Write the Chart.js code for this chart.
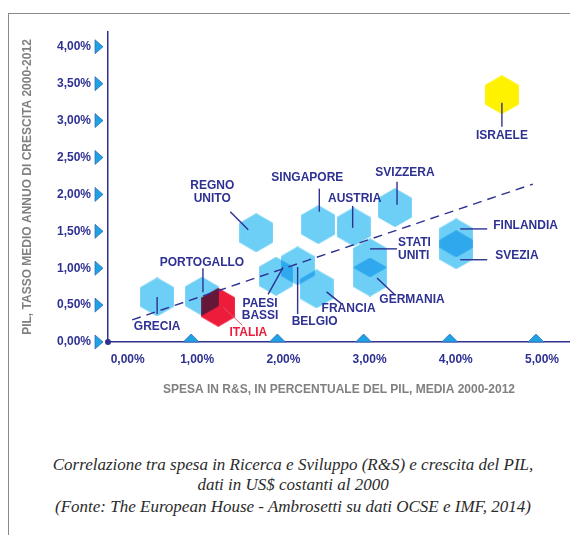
<!DOCTYPE html>
<html>
<head>
<meta charset="utf-8">
<script src="https://cdn.jsdelivr.net/npm/chart.js@4.4.1/dist/chart.umd.min.js"></script>
<style>
  html, body { margin: 0; padding: 0; background: #fff; overflow: hidden; }
  body { width: 570px; height: 535px; position: relative; }
  .frame { position: absolute; left: 8px; top: 13px; width: 700px; height: 700px;
           border-top: 1px solid #8a8a8a; border-left: 1px solid #8a8a8a; }
  #chartBox { position: absolute; left: 0; top: 0; width: 570px; height: 410px; }
  .caption { position: absolute; left: 8px; top: 455px; width: 570px; text-align: center;
             font-family: "Liberation Serif", "DejaVu Serif", serif; font-style: italic;
             font-size: 17px; color: #2b2b2b; }
  .caption p { margin: 0; line-height: 20px; }
  .caption p + p { margin-top: 2px; }
</style>
</head>
<body>
<div class="frame"></div>
<div id="chartBox"><canvas id="chart" width="570" height="410"></canvas></div>
<div class="caption">
  <p>Correlazione tra spesa in Ricerca e Sviluppo (R&amp;S) e crescita del PIL,<br>dati in US$ costanti al 2000</p>
  <p>(Fonte: The European House - Ambrosetti su dati OCSE e IMF, 2014)</p>
</div>
<script>
// data
const countries = ['GRECIA', 'PORTOGALLO', 'ITALIA', 'REGNO UNITO', 'PAESI BASSI', 'BELGIO', 'FRANCIA',
  'SINGAPORE', 'AUSTRIA', 'SVIZZERA', 'STATI UNITI', 'GERMANIA', 'FINLANDIA', 'SVEZIA', 'ISRAELE'];
const rdSpend = [0.57, 1.09, 1.28, 1.72, 1.95, 2.20, 2.42, 2.44, 2.85, 3.33, 3.04, 3.04, 4.04, 4.04, 4.57];
const gdpGrowth = [0.61, 0.62, 0.47, 1.48, 0.89, 1.03, 0.72, 1.59, 1.56, 1.82, 1.14, 0.88, 1.41, 1.25, 3.35];
const trendX = [0.28, 4.93];
const trendY = [0.30, 2.14];
const xTickValues = [0, 1, 2, 3, 4, 5];
const yTickValues = [0, 0.5, 1, 1.5, 2, 2.5, 3, 3.5, 4];

const NAVY = '#2e3192';
const GRAY = '#808080';
const BLUE = '#6dcff6';
const RED = '#ed1c3a';
const YELLOW = '#fff200';

// label placement, pixels relative to the point: [dx, dy, align, leader x1, y1, x2, y2]
const labelLayout = {
  'GRECIA':      [0, 30, 'center', 0, 0, 0, 17],
  'PORTOGALLO':  [0, -34, 'center', 1, -28, 1, -4],
  'ITALIA':      [30, 25, 'center', 5, 0, 24, 18],
  'REGNO UNITO': [-44, -47, 'center', -26, -21, -8, -3],
  'PAESI BASSI': [-16, 27, 'center', -8, 18, 7, -9],
  'BELGIO':      [17, 56, 'center', 0, 1, 0, 48],
  'FRANCIA':     [32, 20, 'center', 10, 3, 25, 15],
  'SINGAPORE':   [-11, -47, 'center', 1, -36, 1, -13],
  'AUSTRIA':     [1, -28, 'center', -1, -21, -1, 1],
  'SVIZZERA':    [10, -35, 'center', 2, -26, 2, -3],
  'STATI UNITI': [28, -15, 'left', 0, -9, 27, -9],
  'GERMANIA':    [42, 23, 'center', 7, 1, 25, 18],
  'FINLANDIA':   [37, -12, 'left', 4, -9, 31, -9],
  'SVEZIA':      [39, 6, 'left', 4, 10, 31, 10],
  'ISRAELE':     [0, 41, 'center', 0, 8, 0, 32]
};
const twoLine = ['REGNO UNITO', 'PAESI BASSI', 'STATI UNITI'];

function hexImage(color) {
  const r = 19.5;
  const w = Math.ceil(r * Math.sqrt(3)), h = Math.ceil(2 * r);
  const c = document.createElement('canvas');
  c.width = w; c.height = h;
  const g = c.getContext('2d');
  g.fillStyle = color;
  g.beginPath();
  for (let i = 0; i < 6; i++) {
    const a = Math.PI / 3 * i - Math.PI / 2;
    g.lineTo(w / 2 + r * Math.cos(a), h / 2 + r * Math.sin(a));
  }
  g.closePath();
  g.fill();
  return c;
}

const pointsOf = (filter) => countries
  .map((name, i) => ({ x: rdSpend[i], y: gdpGrowth[i], name }))
  .filter(p => filter(p.name));

const fmt = v => v.toFixed(2).replace('.', ',') + '%';

const multiplyPlugin = {
  id: 'multiply',
  beforeDatasetDraw(chart, args) {
    if (chart.data.datasets[args.index].hex) {
      chart.ctx.save();
      chart.ctx.globalCompositeOperation = 'multiply';
    }
  },
  afterDatasetDraw(chart, args) {
    if (chart.data.datasets[args.index].hex) chart.ctx.restore();
  }
};

const decorPlugin = {
  id: 'decor',
  afterDraw(chart) {
    const { ctx, chartArea, scales: { x, y } } = chart;
    ctx.save();
    // triangles on the y axis
    ctx.fillStyle = '#1ea2e4';
    ctx.strokeStyle = '#2f62b0';
    ctx.lineWidth = 0.7;
    y.ticks.forEach(t => {
      const py = y.getPixelForValue(t.value);
      const x0 = chartArea.left - 13;
      ctx.beginPath();
      ctx.moveTo(x0, py - 7);
      ctx.lineTo(x0 + 8, py);
      ctx.lineTo(x0, py + 7);
      ctx.closePath();
      ctx.fill(); ctx.stroke();
    });
    // triangles on the x axis
    x.ticks.filter(t => t.value > 0).forEach(t => {
      const px = x.getPixelForValue(t.value) - 3;
      const py = chartArea.bottom;
      ctx.beginPath();
      ctx.moveTo(px - 8, py);
      ctx.lineTo(px, py - 8);
      ctx.lineTo(px + 8, py);
      ctx.closePath();
      ctx.fill(); ctx.stroke();
    });
    // origin dot
    ctx.fillStyle = NAVY;
    ctx.beginPath();
    ctx.arc(x.getPixelForValue(0), y.getPixelForValue(0), 3, 0, Math.PI * 2);
    ctx.fill();

    // country labels + leader lines
    ctx.font = 'bold 12px "Liberation Sans", Arial, sans-serif';
    ctx.textBaseline = 'middle';
    countries.forEach((name, i) => {
      const L = labelLayout[name];
      const px = x.getPixelForValue(rdSpend[i]);
      const py = y.getPixelForValue(gdpGrowth[i]);
      const isItaly = name === 'ITALIA';
      ctx.strokeStyle = isItaly ? '#e0566b' : NAVY;
      ctx.lineWidth = isItaly ? 1 : 1.4;
      ctx.beginPath();
      ctx.moveTo(px + L[3], py + L[4]);
      ctx.lineTo(px + L[5], py + L[6]);
      ctx.stroke();
      ctx.fillStyle = isItaly ? RED : NAVY;
      ctx.textAlign = L[2];
      const lines = twoLine.includes(name) ? name.split(' ') : [name];
      lines.forEach((s, k) => ctx.fillText(s, px + L[0], py + L[1] + k * 12.5));
    });
    ctx.restore();
  }
};

Chart.defaults.font.family = '"Liberation Sans", Arial, sans-serif';

new Chart(document.getElementById('chart'), {
  type: 'scatter',
  data: {
    datasets: [
      {
        label: 'tendenza',
        data: trendX.map((v, i) => ({ x: v, y: trendY[i] })),
        showLine: true,
        borderColor: NAVY,
        borderWidth: 1.4,
        borderDash: [9, 6],
        pointRadius: 0,
        fill: false,
        order: 0
      },
      {
        label: 'Italia',
        hex: true,
        data: pointsOf(n => n === 'ITALIA'),
        pointStyle: hexImage(RED),
        pointRadius: 10,
        order: 1
      },
      {
        label: 'Paesi',
        hex: true,
        data: pointsOf(n => n !== 'ITALIA' && n !== 'ISRAELE'),
        pointStyle: hexImage(BLUE),
        pointRadius: 10,
        order: 2
      },
      {
        label: 'Israele',
        hex: true,
        data: pointsOf(n => n === 'ISRAELE'),
        pointStyle: hexImage(YELLOW),
        pointRadius: 10,
        order: 3
      }
    ]
  },
  options: {
    responsive: false,
    animation: false,
    events: [],
    layout: { autoPadding: false, padding: { top: 32, right: 0, bottom: 0, left: 0 } },
    plugins: {
      legend: { display: false },
      tooltip: { enabled: false }
    },
    scales: {
      x: {
        type: 'linear',
        position: 'bottom',
        min: 0,
        max: 5.36,
        afterBuildTicks: s => { s.ticks = xTickValues.map(v => ({ value: v })); },
        afterFit: s => { s.height = 68; s.paddingLeft = 0; s.paddingRight = 0; },
        grid: { display: false, drawTicks: false },
        border: { display: true, color: NAVY, width: 1.5 },
        ticks: {
          color: NAVY,
          font: { size: 12, weight: 'bold' },
          padding: 10,
          labelOffset: 3,
          maxRotation: 0,
          callback: v => v === 0 ? '          ' + fmt(v) : fmt(v)
        },
        title: {
          display: true,
          text: 'SPESA IN R&S, IN PERCENTUALE DEL PIL, MEDIA 2000-2012',
          color: GRAY,
          font: { size: 12, weight: 'bold' },
          padding: { top: 0, bottom: 13 }
        }
      },
      y: {
        type: 'linear',
        min: 0,
        max: 4.2,
        afterBuildTicks: s => { s.ticks = yTickValues.map(v => ({ value: v })); },
        afterFit: s => { s.width = 108; s.paddingTop = 0; s.paddingBottom = 0; },
        grid: { display: false, drawTicks: false },
        border: { display: true, color: NAVY, width: 1.5 },
        ticks: {
          color: NAVY,
          font: { size: 12, weight: 'bold' },
          padding: 17,
          callback: v => fmt(v)
        },
        title: {
          display: true,
          text: 'PIL, TASSO MEDIO ANNUO DI CRESCITA 2000-2012',
          color: GRAY,
          font: { size: 12, weight: 'bold' },
          padding: { top: 20, bottom: 0 }
        }
      }
    }
  },
  plugins: [multiplyPlugin, decorPlugin]
});
</script>
</body>
</html>
